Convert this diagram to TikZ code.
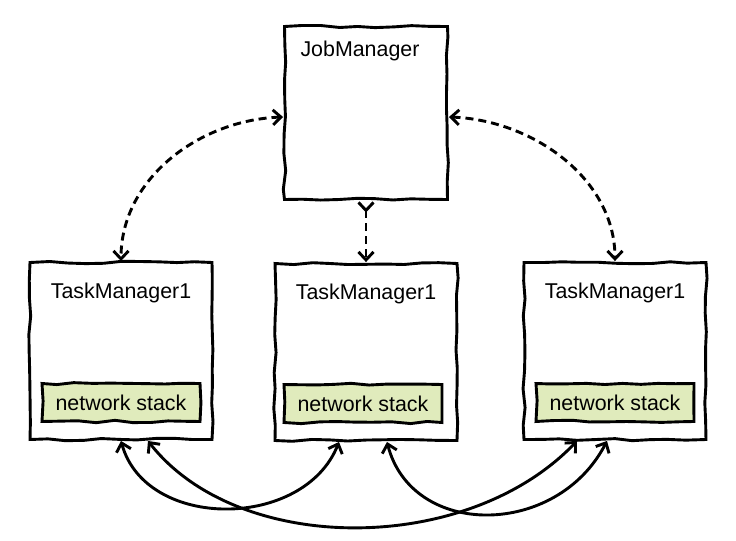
\documentclass[tikz,border=0pt]{standalone}
\usepackage{fontspec}
\setmainfont{Liberation Sans}
\usetikzlibrary{positioning, arrows.meta, decorations.pathmorphing}
\definecolor{stackgreen}{RGB}{224,235,188}

\begin{document}
\pgfmathsetseed{7}
\begin{tikzpicture}[x=0.5pt, y=-0.5pt, line width=1.45pt,
    >={Straight Barb[length=4pt,width=7.5pt]},
    sketch/.style={decorate, decoration={random steps, segment length=9pt, amplitude=0.6pt}},
    manager/.style={draw, sketch, inner sep=0pt, minimum width=91pt, minimum height=88.5pt},
    stack/.style={draw, sketch, fill=stackgreen, inner sep=0pt, minimum width=79pt, minimum height=19pt, font=\fontsize{10.7}{12}\selectfont},
    title/.style={inner sep=0pt, font=\fontsize{10.7}{12}\selectfont},
    control/.style={dash pattern=on 4pt off 2.5pt}]
    \useasboundingbox (0,0) rectangle (736,541);

    % managers
    \node[manager, minimum width=81.5pt, minimum height=86.5pt] (jm) at (366,113) {};
    \node[manager] (tm1) at (121,351) {};
    \node[manager] (tm2) at (366,352) {};
    \node[manager] (tm3) at (615,351) {};

    \node[title, below=7pt of jm.north, xshift=-3pt] (jmtitle) {JobManager};
    \node[title, below=10pt of tm1.north] (tm1title) {TaskManager1};
    \node[title, below=10pt of tm2.north] (tm2title) {TaskManager1};
    \node[title, below=10pt of tm3.north] (tm3title) {TaskManager1};

    \node[stack, above=9pt of tm1.south] (ns1) {network stack};
    \node[stack, above=9pt of tm2.south, xshift=-1.5pt] (ns2) {network stack};
    \node[stack, above=9pt of tm3.south] (ns3) {network stack};

    % control messages
    \draw[control, <->] ([yshift=-2pt]jm.west) .. controls +(-83,3) and +(0,-83) .. (tm1.north);
    \draw[control, >->] (jm.south) -- (tm2.north);
    \draw[control, <->] ([yshift=-2pt]jm.east) .. controls +(83,3) and +(0,-83) .. (tm3.north);

    % data exchange
    \draw[<->] (tm1.south) .. controls +(25,90) and +(-35,88) .. ([xshift=-13.5pt]tm2.south);
    \draw[<->] ([xshift=13.5pt]tm1.south) .. controls +(90,115) and +(-110,115) .. ([xshift=-19pt]tm3.south);
    \draw[<->] ([xshift=10.5pt]tm2.south) .. controls +(25,97) and +(-50,97) .. ([xshift=-4pt]tm3.south);
\end{tikzpicture}
\end{document}
